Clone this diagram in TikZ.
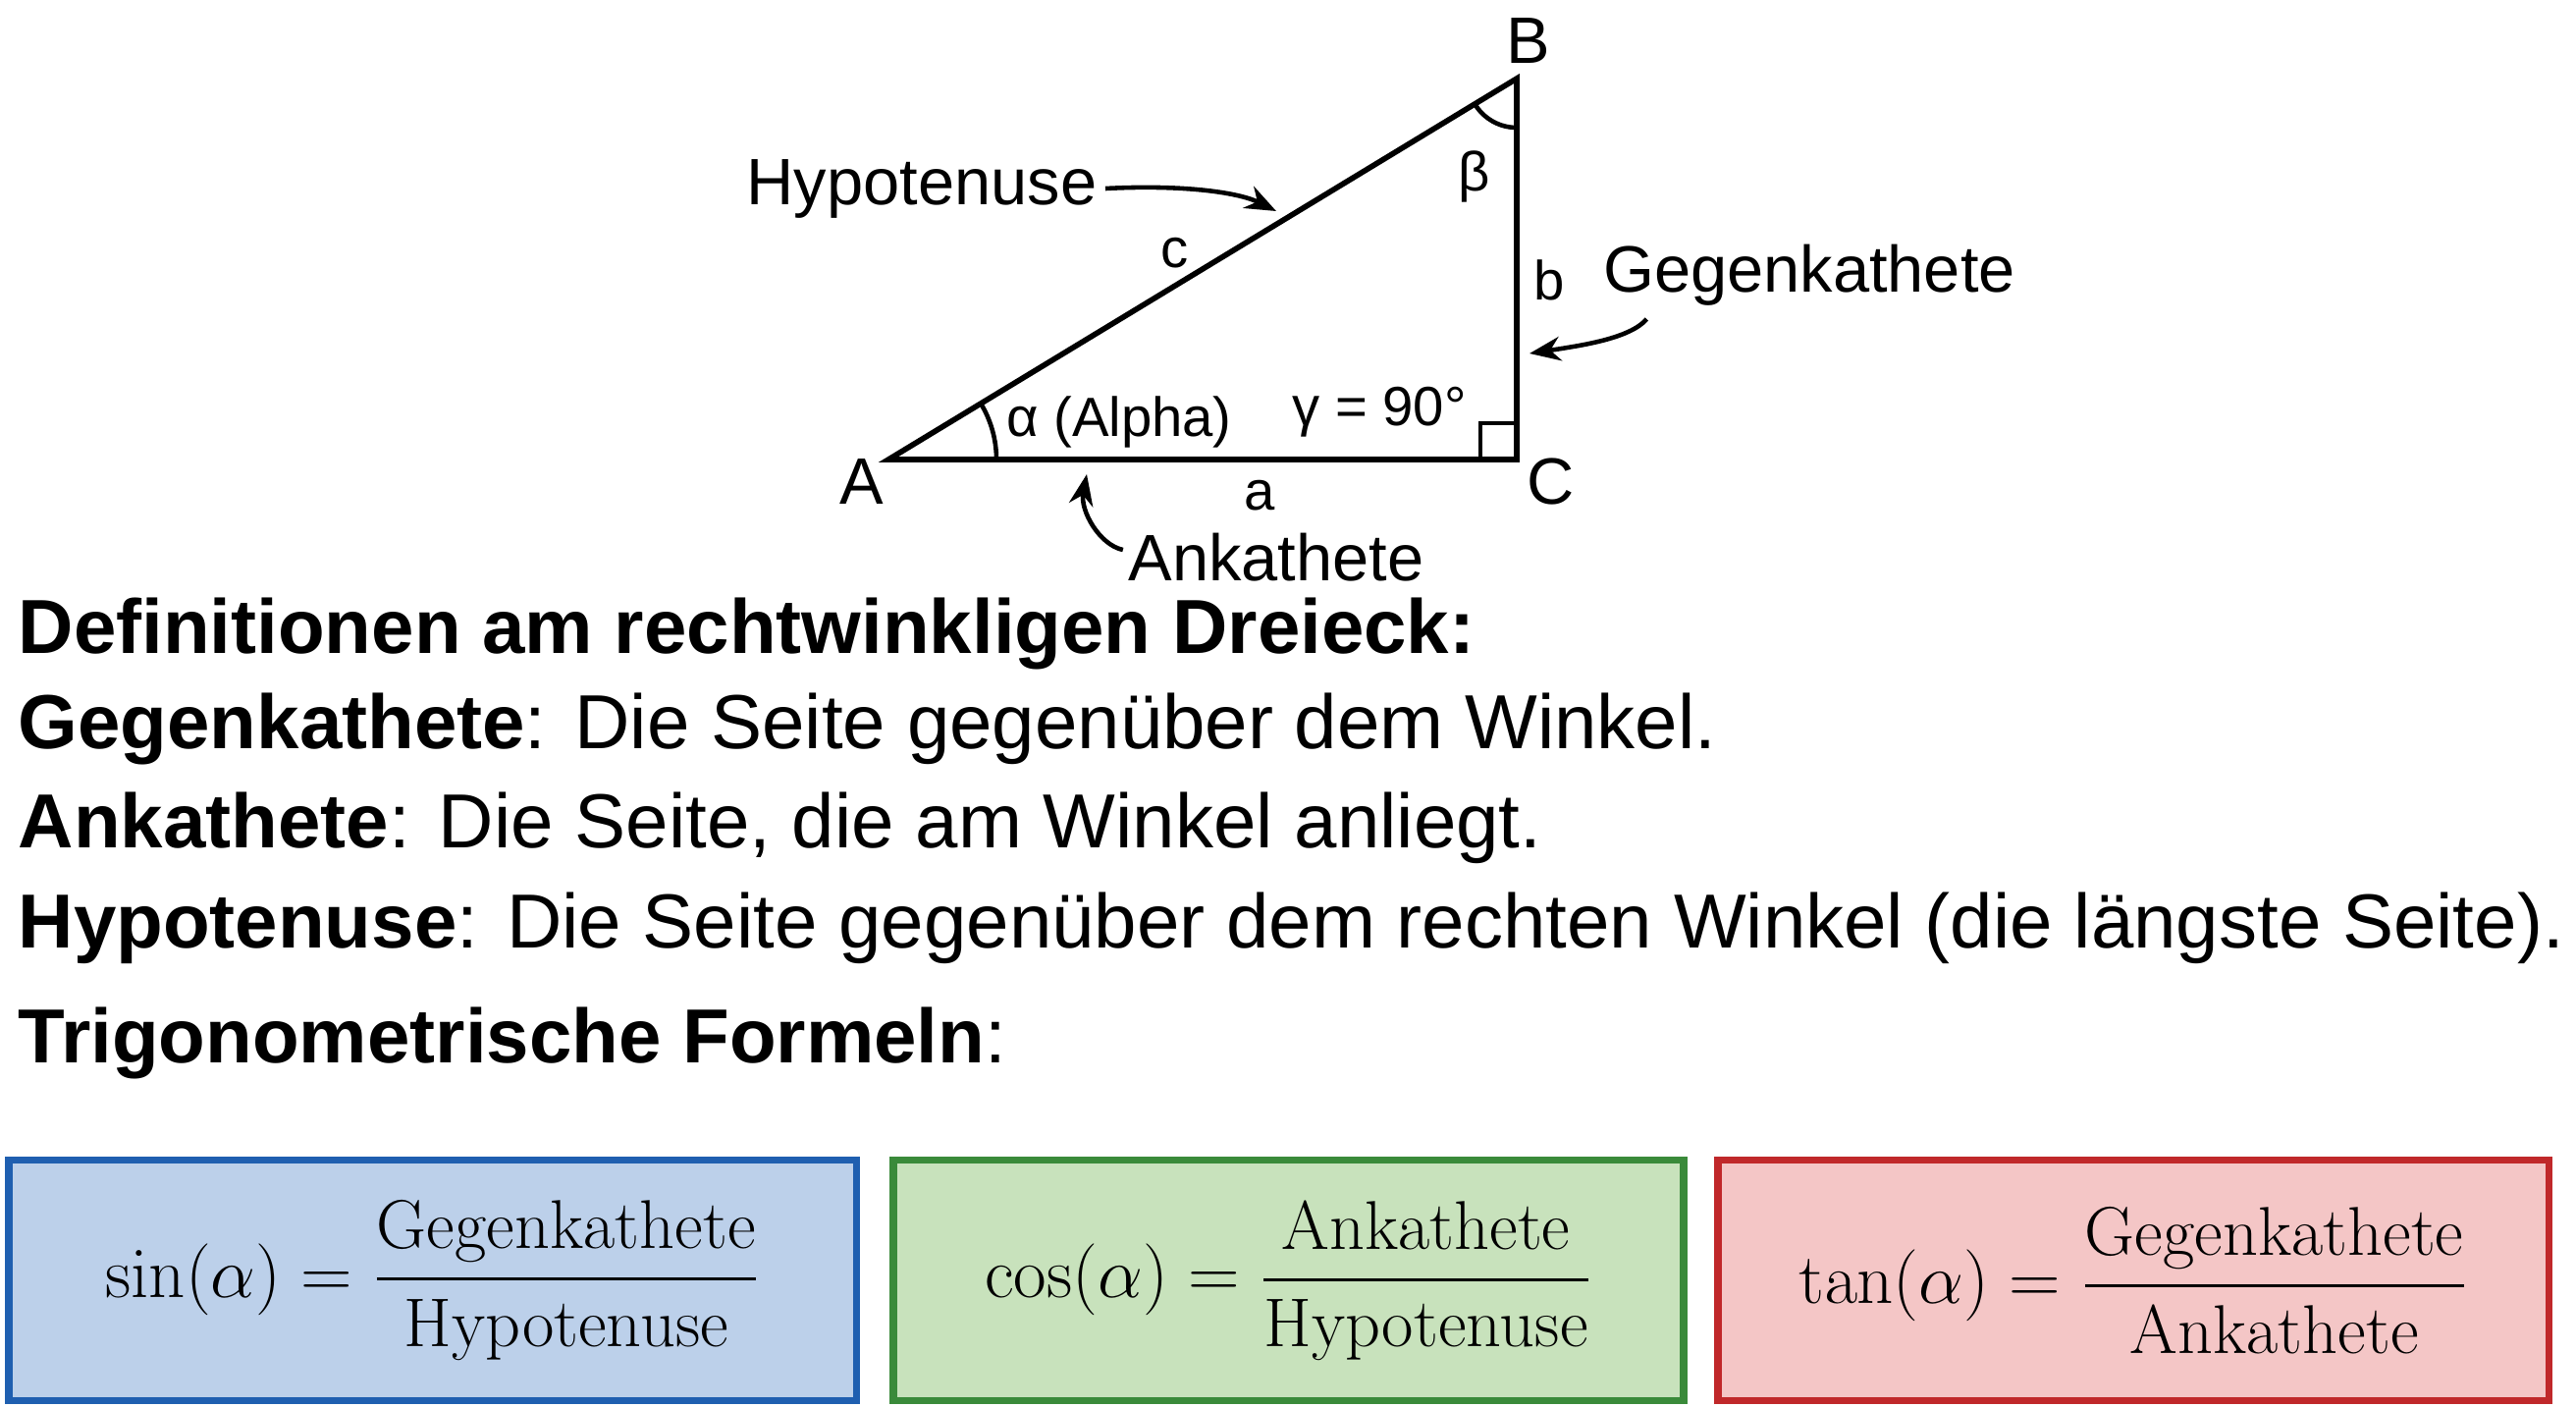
\documentclass[tikz,border=0pt]{standalone}
\usepackage[no-math]{fontspec}
\setmainfont{Liberation Sans}
\usepackage{amsmath}
\usetikzlibrary{arrows.meta,calc}
\definecolor{bfill}{HTML}{BCD0EA}\definecolor{bdraw}{HTML}{1F5FB0}
\definecolor{gfill}{HTML}{C8E2BC}\definecolor{gdraw}{HTML}{3A8A3A}
\definecolor{rfill}{HTML}{F4C6C6}\definecolor{rdraw}{HTML}{C0282A}
\newfontfamily\lmr{Latin Modern Roman}
\newcommand{\tx}[1]{\text{\lmr #1}}
\begin{document}
\begin{tikzpicture}[x=0.01cm,y=-0.01cm,
 lab/.style={font=\fontsize{19}{23}\selectfont,inner sep=0},
 slab/.style={font=\fontsize{16}{20}\selectfont,inner sep=0},
 txt/.style={font=\fontsize{22.2}{26}\selectfont,anchor=west,inner sep=0},
 box/.style={draw,line width=2.2pt,minimum width=#1,minimum height=2.45cm,anchor=west,inner sep=0},
 arr/.style={-{Stealth[length=9pt,width=7pt]},line width=1.3pt},
 math/.style={font=\fontsize{20}{24}\selectfont}]
\useasboundingbox (0,0) rectangle (2624,1432);
\coordinate (A) at (905,468); \coordinate (B) at (1545,80); \coordinate (C) at (1545,468);
\draw[line width=1.6pt,line join=miter] (A) -- (B) -- (C) -- cycle;
\draw[line width=1.3pt] (1508,468) -- (1508,431) -- (1545,431);
\draw[line width=1.3pt] ($(A)+(110,0)$) arc[start angle=0,end angle=-31.2,radius=110];
\draw[line width=1.3pt] ($(B)+(0,50)$) arc[start angle=90,end angle=148.8,radius=50];
\node[lab] (lB) at (1557,42) {B};
\node[lab] (lA) at (878,490) {A};
\node[lab] (lC) at (1580,490) {C};
\node[slab] (lc) at (1197,258) {c};
\node[slab] (lb) at (1578,285) {b};
\node[slab] (la) at (1283,505) {a};
\node[slab] (lal) at (1140,430) {α (Alpha)};
\node[slab] (lga) at (1405,420) {γ = 90°};
\node[slab] (lbe) at (1502,180) {β};
\node[lab] (hyp) at (939,192) {Hypotenuse};
\node[lab] (geg) at (1843,280) {Gegenkathete};
\node[lab] (ank) at (1300,568) {Ankathete};
\coordinate (h1) at (1300,215); \coordinate (g1) at (1558,360); \coordinate (k1) at (1107,483);
\draw[arr] (hyp.east) ++(8,0) .. controls (1200,188) and (1260,195) .. (h1);
\draw[arr] (geg.west) ++(45,45) .. controls (1660,345) and (1610,352) .. (g1);
\draw[arr] (ank.west) ++(-5,-8) .. controls (1120,555) and (1100,520) .. (k1);
\node[txt] (t1) at (18,645) {\bfseries Definitionen am rechtwinkligen Dreieck:};
\node[txt] (t2) at (18,742) {\textbf{Gegenkathete}: Die Seite gegenüber dem Winkel.};
\node[txt] (t3) at (18,843) {\textbf{Ankathete}: Die Seite, die am Winkel anliegt.};
\node[txt] (t4) at (18,945) {\textbf{Hypotenuse}: Die Seite gegenüber dem rechten Winkel (die längste Seite).};
\node[txt] (t5) at (18,1062) {\textbf{Trigonometrische Formeln}:};
\node[box=8.63cm,draw=bdraw,fill=bfill] (s) at (5,1304) {};
\node[box=8.05cm,draw=gdraw,fill=gfill] (co) at (906,1304) {};
\node[box=8.46cm,draw=rdraw,fill=rfill] (ta) at (1746,1304) {};
\node[math] at (s) {$\sin(\alpha)=\dfrac{\tx{Gegenkathete}}{\tx{Hypotenuse}}$};
\node[math] at (co) {$\cos(\alpha)=\dfrac{\tx{Ankathete}}{\tx{Hypotenuse}}$};
\node[math] at (ta) {$\tan(\alpha)=\dfrac{\tx{Gegenkathete}}{\tx{Ankathete}}$};
\end{tikzpicture}
\end{document}
